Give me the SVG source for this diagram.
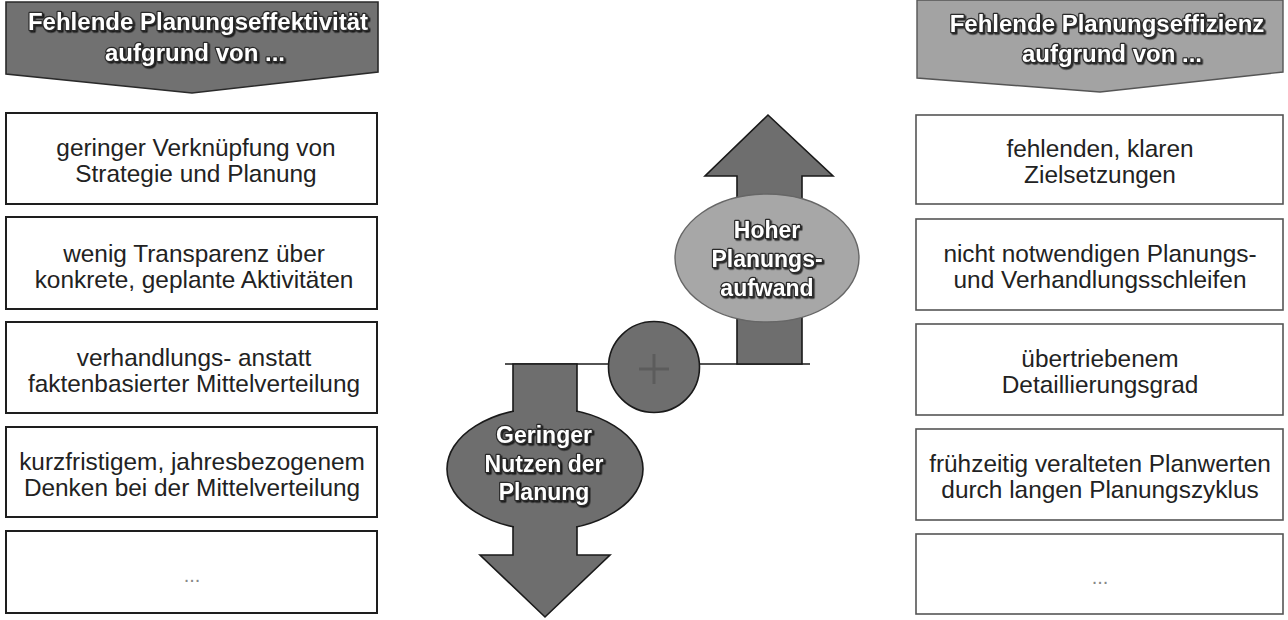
<svg xmlns="http://www.w3.org/2000/svg" width="1288" height="620" viewBox="0 0 1288 620">
  <defs>
    <filter id="txtShadow" x="-10%" y="-20%" width="120%" height="150%">
      <feDropShadow dx="1.5" dy="1.5" stdDeviation="0.6" flood-color="#000" flood-opacity="0.75"/>
    </filter>
    <style>
      .box-l { fill: #fff; stroke: #1e1e1e; stroke-width: 2; }
      .box-r { fill: #fff; stroke: #555; stroke-width: 1.6; }
      .body { font-family: "Liberation Sans", Arial, sans-serif; font-size: 24.4px; fill: #222; text-anchor: middle; }
      .dots { font-family: "Liberation Sans", Arial, sans-serif; font-size: 20px; fill: #888; text-anchor: middle; }
      .bold { font-family: "Liberation Sans", Arial, sans-serif; font-weight: bold; fill: #fff; stroke: #2a2a2a; stroke-width: 2.4; paint-order: stroke; stroke-linejoin: round; text-anchor: middle; filter: url(#txtShadow); }
      .hdr { font-size: 24px; }
      .lbl { font-size: 23px; }
      .dark { fill: #6e6e6e; stroke: #1a1a1a; stroke-width: 1.6; stroke-linejoin: miter; }
      .light { fill: #a7a7a7; stroke: #666; stroke-width: 1.4; }
    </style>
  </defs>

  <rect width="1288" height="620" fill="#fff"/>

  <!-- left column: header chevron -->
  <g id="hdr-left">
    <polygon points="6,2 378,2 378,72 192,93 6,74" fill="#717171" stroke="#2a2a2a" stroke-width="1.6"/>
    <text class="bold hdr" x="198" y="30">Fehlende Planungseffektivität</text>
    <text class="bold hdr" x="195" y="61">aufgrund von ...</text>
  </g>

  <!-- left column: cause boxes -->
  <g id="left-1">
    <rect class="box-l" x="6" y="113" width="371" height="91"/>
    <text class="body" x="196" y="156">geringer Verknüpfung von</text>
    <text class="body" x="196" y="182">Strategie und Planung</text>
  </g>
  <g id="left-2">
    <rect class="box-l" x="6" y="217" width="371" height="92"/>
    <text class="body" x="194" y="262">wenig Transparenz über</text>
    <text class="body" x="194" y="288">konkrete, geplante Aktivitäten</text>
  </g>
  <g id="left-3">
    <rect class="box-l" x="6" y="322" width="371" height="91"/>
    <text class="body" x="194" y="366">verhandlungs- anstatt</text>
    <text class="body" x="194" y="392">faktenbasierter Mittelverteilung</text>
  </g>
  <g id="left-4">
    <rect class="box-l" x="6" y="427" width="371" height="90"/>
    <text class="body" x="192" y="470">kurzfristigem, jahresbezogenem</text>
    <text class="body" x="192" y="496">Denken bei der Mittelverteilung</text>
  </g>
  <g id="left-5">
    <rect class="box-l" x="6" y="531" width="371" height="82"/>
    <text class="dots" x="192" y="582">...</text>
  </g>

  <!-- right column: header chevron -->
  <g id="hdr-right">
    <polygon points="917,0 1283,0 1283,72 1100,92 917,78" fill="#a3a3a3" stroke="#555" stroke-width="1.4"/>
    <text class="bold hdr" x="1107" y="32">Fehlende Planungseffizienz</text>
    <text class="bold hdr" x="1112" y="62">aufgrund von ...</text>
  </g>

  <!-- right column: cause boxes -->
  <g id="right-1">
    <rect class="box-r" x="916" y="115" width="367" height="89"/>
    <text class="body" x="1100" y="157">fehlenden, klaren</text>
    <text class="body" x="1100" y="183">Zielsetzungen</text>
  </g>
  <g id="right-2">
    <rect class="box-r" x="916" y="219" width="367" height="91"/>
    <text class="body" x="1100" y="262">nicht notwendigen Planungs-</text>
    <text class="body" x="1100" y="288">und Verhandlungsschleifen</text>
  </g>
  <g id="right-3">
    <rect class="box-r" x="916" y="324" width="367" height="91"/>
    <text class="body" x="1100" y="367">übertriebenem</text>
    <text class="body" x="1100" y="393">Detaillierungsgrad</text>
  </g>
  <g id="right-4">
    <rect class="box-r" x="916" y="429" width="367" height="91"/>
    <text class="body" x="1100" y="472">frühzeitig veralteten Planwerten</text>
    <text class="body" x="1100" y="498">durch langen Planungszyklus</text>
  </g>
  <g id="right-5">
    <rect class="box-r" x="916" y="534" width="367" height="80"/>
    <text class="dots" x="1100" y="584">...</text>
  </g>

  <!-- balance beam -->
  <g id="connectors">
    <line x1="505" y1="364" x2="810" y2="364" stroke="#1a1a1a" stroke-width="1.6"/>
  </g>

  <!-- upward arrow: effort -->
  <g id="effort">
    <polygon class="dark" points="737,364 737,176 705,176 768,115 833,176 802,176 802,364"/>
    <ellipse class="light" cx="767" cy="258" rx="92" ry="64"/>
    <text class="bold lbl" x="767" y="238">Hoher</text>
    <text class="bold lbl" x="767" y="267">Planungs-</text>
    <text class="bold lbl" x="767" y="296">aufwand</text>
  </g>

  <!-- downward arrow: benefit -->
  <g id="benefit">
    <polygon class="dark" points="513,364 577,364 577,555 610,555 545,617 480,555 513,555"/>
    <ellipse class="dark" cx="545" cy="469" rx="98" ry="61"/>
    <rect x="514" y="395" width="62" height="150" fill="#6e6e6e"/>
    <text class="bold lbl" x="544" y="443">Geringer</text>
    <text class="bold lbl" x="544" y="472">Nutzen der</text>
    <text class="bold lbl" x="544" y="500">Planung</text>
  </g>

  <!-- pivot with plus sign -->
  <g id="pivot">
    <circle class="dark" cx="654" cy="367" r="45.5"/>
    <path d="M639,369 H669 M654,354 V384" stroke="#5c5c5c" stroke-width="3"/>
  </g>
</svg>
